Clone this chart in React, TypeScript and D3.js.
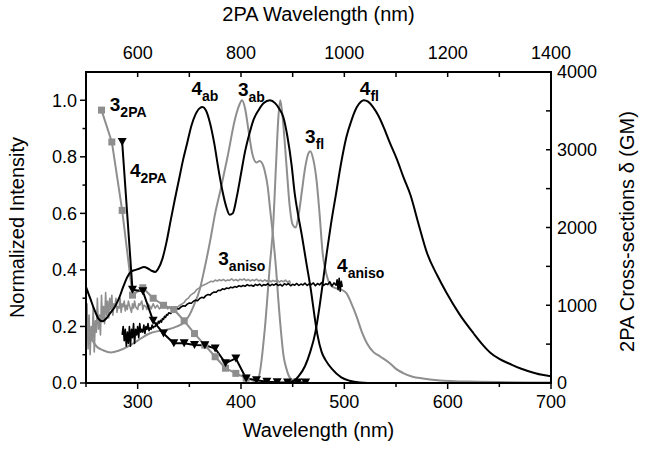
import React from "react";
import * as d3 from "d3";

// ---------- data (1PA wavelength nm, normalized intensity) ----------
const ab4: [number, number][] = [
  [250, 0.34], [254, 0.3], [258, 0.26], [262, 0.228], [266, 0.218], [270, 0.23], [274, 0.25], [278, 0.27],
  [282, 0.3], [286, 0.34], [290, 0.375], [294, 0.395], [298, 0.4], [302, 0.405], [306, 0.41], [310, 0.405],
  [314, 0.396], [317, 0.393], [320, 0.405], [324, 0.44], [328, 0.5], [332, 0.576], [336, 0.65], [340, 0.72],
  [344, 0.79], [348, 0.85], [352, 0.91], [356, 0.95], [360, 0.972], [363, 0.976], [366, 0.965], [370, 0.92],
  [374, 0.85], [378, 0.76], [382, 0.68], [386, 0.62], [389, 0.595], [392, 0.6], [396, 0.66], [400, 0.74],
  [404, 0.82], [408, 0.88], [412, 0.93], [417, 0.965], [422, 0.99], [428, 1.0], [433, 0.99], [437, 0.97],
  [441, 0.94], [445, 0.87], [449, 0.77], [452, 0.67], [455, 0.6], [459, 0.52], [463, 0.43], [468, 0.32],
  [471, 0.24], [474, 0.17], [478, 0.11], [482, 0.08], [488, 0.05], [497, 0.02], [505, 0.008], [515, 0.002],
  [530, 0], [700, 0],
];
const fl4: [number, number][] = [
  [440, 0], [447, 0.003], [452, 0.01], [456, 0.025], [462, 0.06], [467, 0.11], [472, 0.18], [476, 0.27],
  [479, 0.35], [483, 0.46], [487, 0.56], [492, 0.67], [497, 0.78], [502, 0.87], [507, 0.93], [512, 0.975],
  [516, 0.995], [519, 1.0], [523, 0.995], [528, 0.975], [533, 0.945], [538, 0.905], [544, 0.85], [551, 0.79],
  [557, 0.73], [564, 0.665], [572, 0.56], [580, 0.46], [590, 0.38], [599, 0.318], [612, 0.24], [625, 0.176],
  [634, 0.135], [641, 0.108], [650, 0.085], [660, 0.068], [670, 0.052], [680, 0.04], [690, 0.03], [700, 0.024],
];
const ab3: [number, number][] = [
  [250, 0.21], [255, 0.16], [260, 0.13], [267, 0.115], [274, 0.108], [282, 0.115], [290, 0.128], [300, 0.15],
  [312, 0.176], [322, 0.185], [330, 0.19], [338, 0.2], [345, 0.215], [350, 0.24], [355, 0.28], [360, 0.33],
  [365, 0.41], [370, 0.5], [375, 0.6], [380, 0.68], [387, 0.8], [394, 0.93], [398, 0.98], [401, 1.0],
  [404, 0.97], [407, 0.9], [411, 0.81], [415, 0.78], [418, 0.785], [420, 0.78], [423, 0.75], [426, 0.69],
  [428, 0.62], [431, 0.52], [434, 0.4], [436, 0.3], [439, 0.17], [441, 0.1], [444, 0.05], [448, 0.015],
  [455, 0.003], [470, 0],
];
const fl3: [number, number][] = [
  [410, 0], [417, 0.02], [423, 0.19], [428, 0.42], [431, 0.55], [434, 0.78], [436, 0.93], [438, 1.0],
  [440, 0.95], [444, 0.77], [447, 0.63], [450, 0.56], [453, 0.55], [456, 0.6], [459, 0.68], [462, 0.76],
  [465, 0.81], [467, 0.82], [470, 0.79], [473, 0.72], [476, 0.6], [479, 0.46], [483, 0.38], [487, 0.345],
  [492, 0.335], [497, 0.33], [502, 0.318], [507, 0.28], [512, 0.234], [517, 0.18], [522, 0.14], [528, 0.11],
  [535, 0.093], [544, 0.07], [550, 0.05], [557, 0.035], [566, 0.022], [576, 0.016], [590, 0.01], [620, 0.005],
  [700, 0.002],
];
const aniso3: [number, number][] = [
  [250, 0.14], [251, 0.28], [252, 0.12], [253, 0.24], [254, 0.1], [255, 0.2], [256, 0.15], [257, 0.27],
  [258, 0.11], [259, 0.22], [260, 0.18], [261, 0.3], [262, 0.19], [263, 0.24], [264, 0.17], [265, 0.31],
  [266, 0.22], [267, 0.27], [268, 0.21], [269, 0.32], [270, 0.24], [271, 0.29], [272, 0.23], [273, 0.3],
  [274, 0.26], [275, 0.31], [276, 0.24], [277, 0.28], [278, 0.27], [279, 0.3], [280, 0.25], [281, 0.27],
  [282, 0.265], [283, 0.3], [284, 0.25], [285, 0.28], [286, 0.27], [287, 0.29], [288, 0.255], [289, 0.275],
  [290, 0.26], [291, 0.29], [292, 0.275], [294, 0.25], [295, 0.28], [296, 0.265], [297, 0.29], [298, 0.27],
  [300, 0.26], [301, 0.28], [302, 0.275], [304, 0.29], [305, 0.26], [306, 0.275], [308, 0.27], [309, 0.26],
  [310, 0.28], [312, 0.27], [313, 0.262], [315, 0.28], [317, 0.265], [319, 0.275], [321, 0.262], [323, 0.27],
  [325, 0.266], [327, 0.276], [329, 0.262], [331, 0.27], [333, 0.258], [335, 0.265], [337, 0.26], [339, 0.27],
  [341, 0.275], [343, 0.28], [345, 0.285], [347, 0.295], [349, 0.3], [351, 0.31], [353, 0.315], [355, 0.32],
  [357, 0.33], [359, 0.335], [361, 0.34], [363, 0.345], [365, 0.348], [367, 0.352], [369, 0.356], [371, 0.36],
  [373, 0.358], [375, 0.364], [377, 0.361], [379, 0.365], [381, 0.362], [383, 0.366], [385, 0.361], [387, 0.364],
  [389, 0.363], [391, 0.368], [393, 0.362], [395, 0.366], [397, 0.361], [399, 0.367], [401, 0.364], [403, 0.368],
  [405, 0.362], [407, 0.366], [409, 0.361], [411, 0.365], [413, 0.362], [415, 0.367], [417, 0.361], [419, 0.364],
  [421, 0.359], [423, 0.365], [425, 0.36], [427, 0.364], [429, 0.358], [431, 0.363], [433, 0.359], [435, 0.365],
  [437, 0.357], [439, 0.362], [441, 0.358], [443, 0.364], [445, 0.357], [447, 0.361], [448, 0.352],
];
const aniso4: [number, number][] = [
  [285, 0.17], [286, 0.2], [287, 0.15], [288, 0.19], [289, 0.13], [290, 0.18], [291, 0.14], [292, 0.2],
  [293, 0.13], [294, 0.19], [295, 0.16], [296, 0.21], [297, 0.14], [298, 0.19], [299, 0.17], [300, 0.2],
  [301, 0.16], [302, 0.21], [303, 0.18], [304, 0.19], [305, 0.18], [306, 0.205], [307, 0.175], [308, 0.2],
  [309, 0.19], [310, 0.21], [311, 0.185], [312, 0.195], [313, 0.19], [314, 0.205], [315, 0.195], [316, 0.2],
  [317, 0.2], [318, 0.212], [319, 0.205], [320, 0.218], [321, 0.212], [322, 0.222], [323, 0.215], [324, 0.228],
  [325, 0.225], [326, 0.236], [327, 0.232], [328, 0.242], [329, 0.24], [330, 0.248], [332, 0.246], [334, 0.254],
  [336, 0.258], [338, 0.263], [340, 0.262], [342, 0.269], [344, 0.273], [346, 0.272], [348, 0.279], [350, 0.283],
  [352, 0.282], [354, 0.289], [356, 0.293], [358, 0.291], [360, 0.299], [362, 0.303], [364, 0.301], [366, 0.309],
  [368, 0.313], [370, 0.311], [372, 0.318], [374, 0.322], [376, 0.321], [378, 0.328], [380, 0.327], [382, 0.333],
  [384, 0.331], [386, 0.336], [388, 0.334], [390, 0.339], [392, 0.337], [394, 0.341], [396, 0.339], [398, 0.344],
  [400, 0.341], [402, 0.345], [404, 0.342], [406, 0.348], [408, 0.344], [410, 0.346], [412, 0.342], [414, 0.349],
  [416, 0.345], [418, 0.35], [420, 0.343], [422, 0.348], [424, 0.346], [426, 0.351], [428, 0.344], [430, 0.349],
  [432, 0.346], [434, 0.351], [436, 0.345], [438, 0.349], [440, 0.343], [442, 0.351], [444, 0.347], [446, 0.352],
  [448, 0.344], [450, 0.349], [452, 0.346], [454, 0.352], [456, 0.345], [458, 0.35], [460, 0.347], [462, 0.353],
  [464, 0.345], [466, 0.351], [468, 0.348], [470, 0.354], [472, 0.344], [474, 0.352], [476, 0.347], [478, 0.355],
  [480, 0.345], [482, 0.351], [484, 0.348], [486, 0.358], [488, 0.343], [490, 0.354], [492, 0.346], [493, 0.365],
  [494, 0.33], [495, 0.37], [496, 0.325], [497, 0.36], [498, 0.34],
];

// ---------- 2PA data (2PA wavelength nm, cross-section GM) ----------
const tpa3Wl = [530, 550, 570, 590, 610, 630, 650, 670, 690, 710, 730, 750, 770, 790, 810];
const tpa3GM = [3510, 3100, 2220, 1130, 1225, 1090, 1000, 945, 800, 636, 487, 338, 190, 124, 62];
const tpa4Wl = [570, 590, 610, 630, 650, 670, 690, 710, 730, 750, 770, 790, 810, 830, 850, 870, 890, 910, 925];
const tpa4GM = [3100, 1200, 1180, 800, 636, 510, 510, 490, 487, 444, 255, 316, 58, 36, 15, 10, 8, 8, 5];

// ---------- ticks ----------
const leftMajor = [0, 0.2, 0.4, 0.6, 0.8, 1.0];
const leftMinor = [0.1, 0.3, 0.5, 0.7, 0.9];
const bottomMajor = [300, 400, 500, 600, 700];
const bottomMinor = [250, 350, 450, 550, 650];
const topTicks = [500, 600, 700, 800, 900, 1000, 1100, 1200, 1300, 1400];
const topLabels = [600, 800, 1000, 1200, 1400];
const rightTicks = [0, 500, 1000, 1500, 2000, 2500, 3000, 3500, 4000];
const rightLabels = [0, 1000, 2000, 3000, 4000];

// labels: [main, sub, wavelength, intensity]
const curveLabels: [string, string, number, number][] = [
  ["3", "2PA", 273, 0.961],
  ["4", "2PA", 292.5, 0.728],
  ["4", "ab", 352, 1.018],
  ["3", "ab", 397, 1.014],
  ["4", "fl", 515, 1.018],
  ["3", "fl", 462, 0.848],
  ["3", "aniso", 378, 0.417],
  ["4", "aniso", 493, 0.393],
];

const GRAY = "#8e8e8e";
const FONT = "'Liberation Sans', Arial, Helvetica, sans-serif";

export default function App() {
  const W = 646, H = 450;
  const L = 86, R = 551, T = 72, B = 383;
  const x = d3.scaleLinear().domain([250, 700]).range([L, R]);
  const x2 = d3.scaleLinear().domain([500, 1400]).range([L, R]);
  const y = d3.scaleLinear().domain([0, 1.1]).range([B, T]);
  const yR = d3.scaleLinear().domain([0, 4000]).range([B, T]);

  const smooth = d3.line<[number, number]>().x(d => x(d[0])).y(d => y(d[1])).curve(d3.curveMonotoneX);
  const raw = d3.line<[number, number]>().x(d => x(d[0])).y(d => y(d[1]));
  const tpa = d3.line<[number, number]>().x(d => x2(d[0])).y(d => yR(d[1]));

  const tpa3 = tpa3Wl.map((w, i) => [w, tpa3GM[i]] as [number, number]);
  const tpa4 = tpa4Wl.map((w, i) => [w, tpa4GM[i]] as [number, number]);

  const tickFs = 18;
  const titleFs = 20;

  return (
    <div style={{ position: "absolute", left: 0, top: 0 }}>
      <svg width={W} height={H} style={{ display: "block", background: "#fff" }} fontFamily={FONT}>
        <defs>
          <clipPath id="plot">
            <rect x={L} y={T} width={R - L} height={B - T} />
          </clipPath>
        </defs>
        <g clipPath="url(#plot)" fill="none" strokeLinejoin="round">
          <path d={smooth(ab3) || ""} stroke={GRAY} strokeWidth={2} />
          <path d={smooth(fl3) || ""} stroke={GRAY} strokeWidth={2} />
          <path d={raw(aniso3) || ""} stroke={GRAY} strokeWidth={1.6} />
          <path d={tpa(tpa3) || ""} stroke={GRAY} strokeWidth={2} />
          <path d={smooth(ab4) || ""} stroke="#000" strokeWidth={2} />
          <path d={smooth(fl4) || ""} stroke="#000" strokeWidth={2} />
          <path d={raw(aniso4) || ""} stroke="#000" strokeWidth={1.6} />
          <path d={tpa(tpa4) || ""} stroke="#000" strokeWidth={2} />
          {tpa3.map((d, i) => (
            <rect key={"s" + i} x={x2(d[0]) - 3.5} y={yR(d[1]) - 3.5} width={7} height={7} fill={GRAY} />
          ))}
          {tpa4.map((d, i) => {
            const cx = x2(d[0]), cy = yR(d[1]);
            return <path key={"t" + i} d={`M${cx - 4.5},${cy - 4} L${cx + 4.5},${cy - 4} L${cx},${cy + 4} Z`} fill="#000" />;
          })}
        </g>

        {/* frame */}
        <rect x={L} y={T} width={R - L} height={B - T} fill="none" stroke="#000" strokeWidth={2} />

        {/* left axis */}
        {leftMajor.map(v => (
          <g key={"lm" + v}>
            <line x1={L - 6} x2={L} y1={y(v)} y2={y(v)} stroke="#000" strokeWidth={1.5} />
            <text x={L - 9} y={y(v)} dy="0.35em" textAnchor="end" fontSize={tickFs}>{d3.format(".1f")(v)}</text>
          </g>
        ))}
        {leftMinor.map(v => (
          <line key={"ln" + v} x1={L - 3.5} x2={L} y1={y(v)} y2={y(v)} stroke="#000" strokeWidth={1.5} />
        ))}

        {/* bottom axis */}
        {bottomMajor.map(v => (
          <g key={"bm" + v}>
            <line x1={x(v)} x2={x(v)} y1={B} y2={B + 6} stroke="#000" strokeWidth={1.5} />
            <text x={x(v)} y={B + 25} textAnchor="middle" fontSize={tickFs}>{v}</text>
          </g>
        ))}
        {bottomMinor.map(v => (
          <line key={"bn" + v} x1={x(v)} x2={x(v)} y1={B} y2={B + 4} stroke="#000" strokeWidth={1.5} />
        ))}

        {/* top axis */}
        {topTicks.map(v => (
          <line key={"tt" + v} x1={x2(v)} x2={x2(v)} y1={T} y2={T + 5} stroke="#000" strokeWidth={1.5} />
        ))}
        {topLabels.map(v => (
          <text key={"tl" + v} x={x2(v)} y={T - 13} textAnchor="middle" fontSize={tickFs}>{v}</text>
        ))}

        {/* right axis */}
        {rightTicks.map(v => (
          <line key={"rt" + v} x1={R - 5} x2={R} y1={yR(v)} y2={yR(v)} stroke="#000" strokeWidth={1.5} />
        ))}
        {rightLabels.map(v => (
          <text key={"rl" + v} x={R + 6} y={yR(v)} dy="0.35em" textAnchor="start" fontSize={tickFs}>{v}</text>
        ))}

        {/* titles */}
        <text x={(L + R) / 2} y={437} textAnchor="middle" fontSize={titleFs}>Wavelength (nm)</text>
        <text x={(L + R) / 2} y={21} textAnchor="middle" fontSize={titleFs}>2PA Wavelength (nm)</text>
        <text transform={`translate(24,${(T + B) / 2}) rotate(-90)`} textAnchor="middle" fontSize={titleFs}>Normalized Intensity</text>
        <text transform={`translate(634,${(T + B) / 2 + 4}) rotate(-90)`} textAnchor="middle" fontSize={titleFs}>2PA Cross-sections δ (GM)</text>

        {/* curve labels */}
        {curveLabels.map(([m, s, w, v], i) => (
          <text key={"cl" + i} x={x(w)} y={y(v)} fontSize={19} fontWeight="bold">
            {m}
            <tspan dy={6} fontSize={14}>{s}</tspan>
          </text>
        ))}
      </svg>
    </div>
  );
}
